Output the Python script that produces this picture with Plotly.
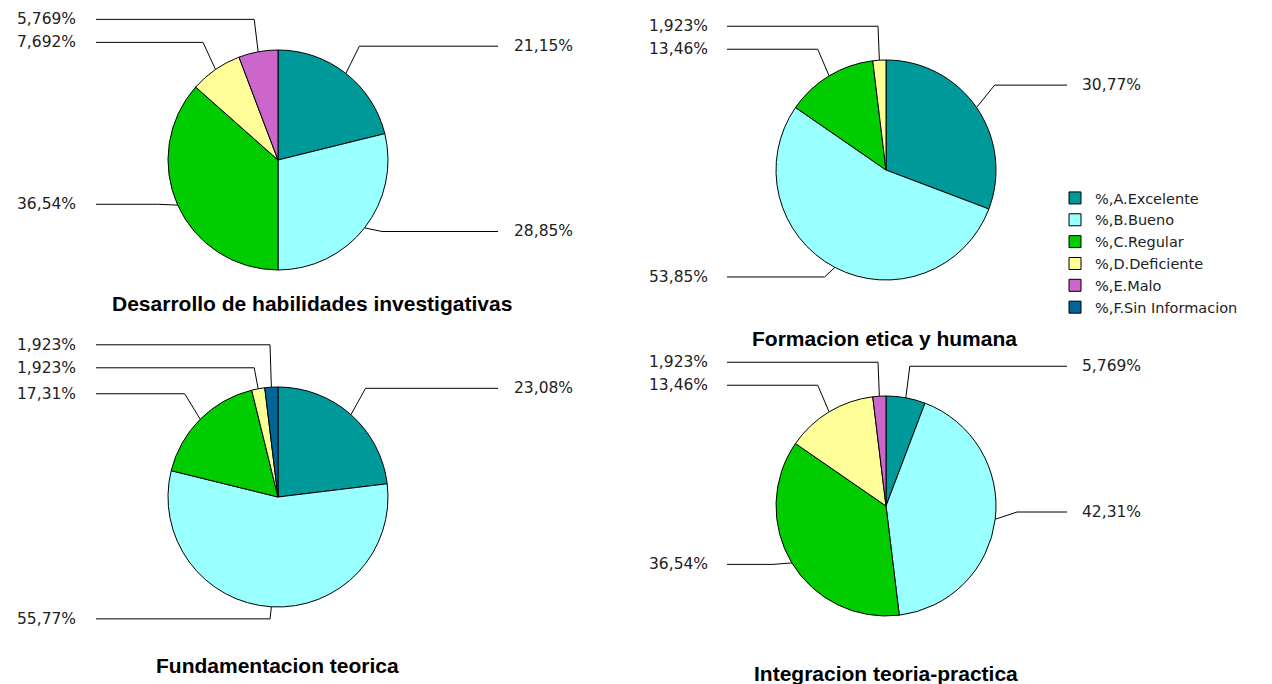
import math
import plotly.graph_objects as go

# ---------------- data ----------------
categories = ["%,A.Excelente", "%,B.Bueno", "%,C.Regular",
              "%,D.Deficiente", "%,E.Malo", "%,F.Sin Informacion"]
colors = ["#009999", "#99FFFF", "#00CC00", "#FFFF99", "#CC66CC", "#006699"]

titles = ["Desarrollo de habilidades investigativas",
          "Formacion etica y humana",
          "Fundamentacion teorica",
          "Integracion teoria-practica"]

desarrollo_labels = ["%,A.Excelente", "%,B.Bueno", "%,C.Regular", "%,D.Deficiente", "%,E.Malo"]
desarrollo_values = [21.15, 28.85, 36.54, 7.692, 5.769]

formacion_labels = ["%,A.Excelente", "%,B.Bueno", "%,C.Regular", "%,D.Deficiente"]
formacion_values = [30.77, 53.85, 13.46, 1.923]

fundamentacion_labels = ["%,A.Excelente", "%,B.Bueno", "%,C.Regular", "%,D.Deficiente", "%,F.Sin Informacion"]
fundamentacion_values = [23.08, 55.77, 17.31, 1.923, 1.923]

integracion_labels = ["%,A.Excelente", "%,B.Bueno", "%,C.Regular", "%,D.Deficiente", "%,E.Malo"]
integracion_values = [5.769, 42.31, 36.54, 13.46, 1.923]

series = [(desarrollo_labels, desarrollo_values),
          (formacion_labels, formacion_values),
          (fundamentacion_labels, fundamentacion_values),
          (integracion_labels, integracion_values)]

# ---------------- layout (pixels) ----------------
W, H = 1272, 684
panels = [
    dict(cx=278, cy=160, r=110, l_line=96, l_text=78, r_line=498, r_text=512, tx=312, ty=303),
    dict(cx=886, cy=170, r=110, l_line=727, l_text=710, r_line=1067, r_text=1080, tx=884, ty=338),
    dict(cx=278, cy=497, r=110, l_line=96, l_text=78, r_line=498, r_text=512, tx=277, ty=665),
    dict(cx=886, cy=506, r=110, l_line=727, l_text=710, r_line=1067, r_text=1080, tx=886, ty=673),
]
GAP = 23
LABEL_FONT = dict(family="DejaVu Sans", size=15.5, color="#222222")
TITLE_FONT = dict(family="Liberation Sans, Arial", size=21, color="#000000")

color_map = dict(zip(categories, colors))


def fmt(v):
    return ("%.4g" % v).replace(".", ",") + "%"


def spread(items):
    items.sort(key=lambda d: d["y"])
    for _ in range(200):
        moved = False
        for i in range(len(items) - 1):
            d = items[i + 1]["y"] - items[i]["y"]
            if d < GAP:
                s = (GAP - d) / 2
                items[i]["y"] -= s
                items[i + 1]["y"] += s
                moved = True
        if not moved:
            break


fig = go.Figure()
annotations = []

for p, (labs, vals), title in zip(panels, series, titles):
    cx, cy, r = p["cx"], p["cy"], p["r"]
    fig.add_trace(go.Pie(
        labels=labs, values=vals, sort=False, direction="clockwise", rotation=0,
        marker=dict(colors=[color_map[l] for l in labs], line=dict(color="#000000", width=1)),
        textinfo="none", hoverinfo="label+percent",
        domain=dict(x=[(cx - r) / W, (cx + r) / W], y=[1 - (cy + r) / H, 1 - (cy - r) / H]),
    ))
    total = sum(vals)
    cum = 0.0
    left, right = [], []
    for v in vals:
        th = 2 * math.pi * (cum + v / 2) / total
        cum += v
        item = dict(
            v=v, th=th,
            ex=cx + r * math.sin(th), ey=cy - r * math.cos(th),
            bx=cx + 1.2 * r * math.sin(th),
            y=cy - 1.2 * r * math.cos(th) - 0.09 * r,
        )
        (right if math.sin(th) >= 0 else left).append(item)
    spread(left)
    spread(right)
    xs, ys = [], []
    for it in left:
        xs += [it["ex"], it["bx"], p["l_line"], None]
        ys += [it["ey"], it["y"], it["y"], None]
        annotations.append(dict(x=p["l_text"], y=it["y"], xref="x", yref="y", text=fmt(it["v"]),
                                showarrow=False, xanchor="right", yanchor="middle", font=LABEL_FONT))
    for it in right:
        xs += [it["ex"], it["bx"], p["r_line"], None]
        ys += [it["ey"], it["y"], it["y"], None]
        annotations.append(dict(x=p["r_text"], y=it["y"], xref="x", yref="y", text=fmt(it["v"]),
                                showarrow=False, xanchor="left", yanchor="middle", font=LABEL_FONT))
    fig.add_trace(go.Scatter(x=xs, y=ys, mode="lines", line=dict(color="#000000", width=1),
                             showlegend=False, hoverinfo="skip"))
    annotations.append(dict(x=p["tx"], y=p["ty"], xref="x", yref="y", text="<b>" + title + "</b>",
                            showarrow=False, xanchor="center", yanchor="middle", font=TITLE_FONT))

fig.update_layout(
    width=W, height=H, margin=dict(l=0, r=0, t=0, b=0),
    paper_bgcolor="#FFFFFF", plot_bgcolor="#FFFFFF",
    xaxis=dict(range=[0, W], visible=False, fixedrange=True),
    yaxis=dict(range=[H, 0], visible=False, fixedrange=True),
    annotations=annotations,
    legend=dict(x=1055 / W, xanchor="left", y=1 - 253 / H, yanchor="middle",
                font=dict(family="DejaVu Sans", size=14.5, color="#222222"),
                bgcolor="rgba(0,0,0,0)", traceorder="normal"),
    showlegend=True,
)

fig.write_html("out.html", config={"displayModeBar": False},
               post_script="document.body.style.margin='0';")
